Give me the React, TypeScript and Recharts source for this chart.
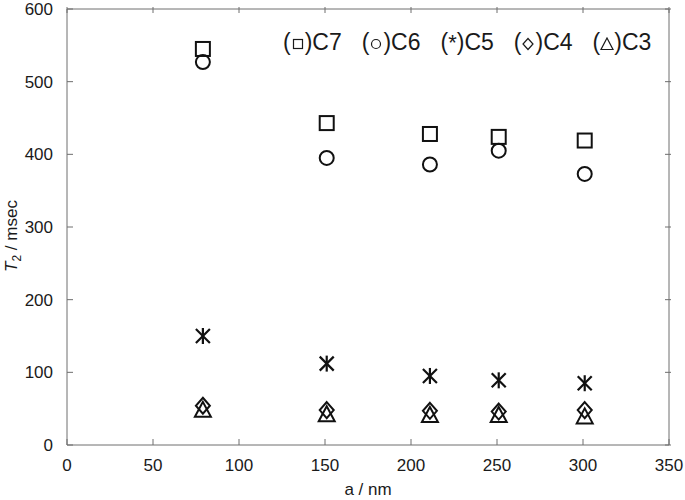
import React from "react";
import {
  ScatterChart,
  Scatter,
  XAxis,
  YAxis,
  Legend,
} from "recharts";

// pore size a (nm)
const poreSize = [79, 151, 211, 251, 301];

// T2 (msec) per alkyl chain
const c7 = [545, 443, 428, 424, 419];
const c6 = [527, 395, 386, 405, 373];
const c5 = [150, 112, 95, 89, 85];
const c4 = [54, 48, 47, 46, 48];
const c3 = [47, 41, 40, 40, 38];

const xTicks = [0, 50, 100, 150, 200, 250, 300, 350];
const yTicks = [0, 100, 200, 300, 400, 500, 600];

const FONT = "'Liberation Sans', Arial, sans-serif";
const TEXT = "#1a1a1a";
const FRAME = "#6e6e6e";
const MARK = "#111";

const toPoints = (ys: number[]) => poreSize.map((a, i) => ({ a, t2: ys[i] }));

const Square = ({ cx, cy }: any) => (
  <rect x={cx - 7} y={cy - 7} width={14} height={14} fill="none" stroke={MARK} strokeWidth={2} />
);
const Circle = ({ cx, cy }: any) => (
  <circle cx={cx} cy={cy} r={7} fill="none" stroke={MARK} strokeWidth={2} />
);
const Star = ({ cx, cy }: any) => (
  <g stroke={MARK} strokeWidth={2.2}>
    <line x1={cx} y1={cy - 8} x2={cx} y2={cy + 8} />
    <line x1={cx - 7} y1={cy - 7} x2={cx + 7} y2={cy + 7} />
    <line x1={cx - 7} y1={cy + 7} x2={cx + 7} y2={cy - 7} />
  </g>
);
const Diamond = ({ cx, cy }: any) => (
  <path d={`M${cx},${cy - 8} L${cx + 7},${cy} L${cx},${cy + 8} L${cx - 7},${cy} Z`} fill="none" stroke={MARK} strokeWidth={2} />
);
const Triangle = ({ cx, cy }: any) => (
  <path d={`M${cx},${cy - 9} L${cx + 8},${cy + 6} L${cx - 8},${cy + 6} Z`} fill="none" stroke={MARK} strokeWidth={2} />
);
const Nothing = () => <g />;

// ticks point inward, labels sit outside
const LeftTick = ({ x, y, payload }: any) => (
  <g>
    <line x1={x + 14} y1={y} x2={x + 20} y2={y} stroke={FRAME} />
    <text x={x} y={y} dy={6} textAnchor="end" fontSize={17} fontFamily={FONT} fill={TEXT}>
      {payload.value}
    </text>
  </g>
);
const BottomTick = ({ x, y, payload }: any) => (
  <g>
    <line x1={x} y1={y - 12} x2={x} y2={y - 18} stroke={FRAME} />
    <text x={x} y={y} dy={14} textAnchor="middle" fontSize={17} fontFamily={FONT} fill={TEXT}>
      {payload.value}
    </text>
  </g>
);
const RightTick = ({ x, y }: any) => <line x1={x} y1={y} x2={x - 6} y2={y} stroke={FRAME} />;
const TopTick = ({ x, y }: any) => <line x1={x} y1={y} x2={x} y2={y + 6} stroke={FRAME} />;

const YLabel = () => (
  <text transform="translate(17,236) rotate(-90)" textAnchor="middle" fontSize={17} fontFamily={FONT} fill={TEXT}>
    <tspan fontStyle="italic">T</tspan>
    <tspan fontSize={12} dy={4}>2</tspan>
    <tspan dy={-4}> / msec</tspan>
  </text>
);

// small outline glyphs used inside the legend's parentheses
const LegendIcon = ({ kind }: { kind: string }) => {
  const s = { fill: "none", stroke: TEXT, strokeWidth: 1.2 };
  return (
    <svg width={14} height={14} viewBox="0 0 14 14" style={{ verticalAlign: -1 }}>
      {kind === "square" && <rect x={2.5} y={2.5} width={9} height={9} {...s} />}
      {kind === "circle" && <circle cx={7} cy={7} r={4.5} {...s} />}
      {kind === "diamond" && <path d="M7,1.5 L12,7 L7,12.5 L2,7 Z" {...s} />}
      {kind === "triangle" && <path d="M7,1 L13,12.5 L1,12.5 Z" {...s} />}
    </svg>
  );
};

const legendItems = [
  { kind: "square", name: "C7" },
  { kind: "circle", name: "C6" },
  { kind: "star", name: "C5" },
  { kind: "diamond", name: "C4" },
  { kind: "triangle", name: "C3" },
];

const LegendText = () => (
  <div style={{ fontFamily: FONT, fontSize: 23, color: TEXT, whiteSpace: "nowrap", lineHeight: "26px" }}>
    {legendItems.map((it, i) => (
      <span key={it.name} style={{ marginLeft: i ? 20 : 0 }}>
        (
        {it.kind === "star" ? <span style={{ fontSize: 22 }}>*</span> : <LegendIcon kind={it.kind} />}
        ){it.name}
      </span>
    ))}
  </div>
);

export default function App() {
  return (
    <div style={{ position: "absolute", left: 0, top: 0, background: "#fff" }}>
      <ScatterChart width={685} height={500} margin={{ top: 8, right: 15, bottom: 15, left: 0 }}>
        <XAxis
          xAxisId="bottom"
          dataKey="a"
          type="number"
          domain={[0, 350]}
          ticks={xTicks}
          stroke={FRAME}
          tickSize={0}
          tickMargin={12}
          tick={<BottomTick />}
          height={40}
          label={{ value: "a / nm", position: "insideBottom", offset: -10, fontSize: 17, fontFamily: FONT, fill: TEXT }}
        />
        <XAxis
          xAxisId="top"
          orientation="top"
          dataKey="a"
          type="number"
          domain={[0, 350]}
          ticks={xTicks}
          stroke={FRAME}
          tickSize={0}
          tick={<TopTick />}
          height={1}
        />
        <YAxis
          yAxisId="left"
          dataKey="t2"
          type="number"
          domain={[0, 600]}
          ticks={yTicks}
          stroke={FRAME}
          tickSize={0}
          tickMargin={14}
          tick={<LeftTick />}
          width={67}
          label={<YLabel />}
        />
        <YAxis
          yAxisId="right"
          orientation="right"
          dataKey="t2"
          type="number"
          domain={[0, 600]}
          ticks={yTicks}
          stroke={FRAME}
          tickSize={0}
          tick={<RightTick />}
          width={1}
        />
        <Legend
          layout="vertical"
          align="center"
          verticalAlign="middle"
          content={<LegendText />}
          wrapperStyle={{ top: 29, left: 283, width: "auto" }}
        />
        <Scatter name="C7" data={toPoints(c7)} xAxisId="bottom" yAxisId="left" shape={<Square />} isAnimationActive={false} />
        <Scatter name="C6" data={toPoints(c6)} xAxisId="bottom" yAxisId="left" shape={<Circle />} isAnimationActive={false} />
        <Scatter name="C5" data={toPoints(c5)} xAxisId="bottom" yAxisId="left" shape={<Star />} isAnimationActive={false} />
        <Scatter name="C4" data={toPoints(c4)} xAxisId="bottom" yAxisId="left" shape={<Diamond />} isAnimationActive={false} />
        <Scatter name="C3" data={toPoints(c3)} xAxisId="bottom" yAxisId="left" shape={<Triangle />} isAnimationActive={false} />
        {/* invisible series that keeps the mirrored frame axes alive */}
        <Scatter name="frame" data={toPoints(c7)} xAxisId="top" yAxisId="right" shape={<Nothing />} legendType="none" isAnimationActive={false} />
      </ScatterChart>
    </div>
  );
}
